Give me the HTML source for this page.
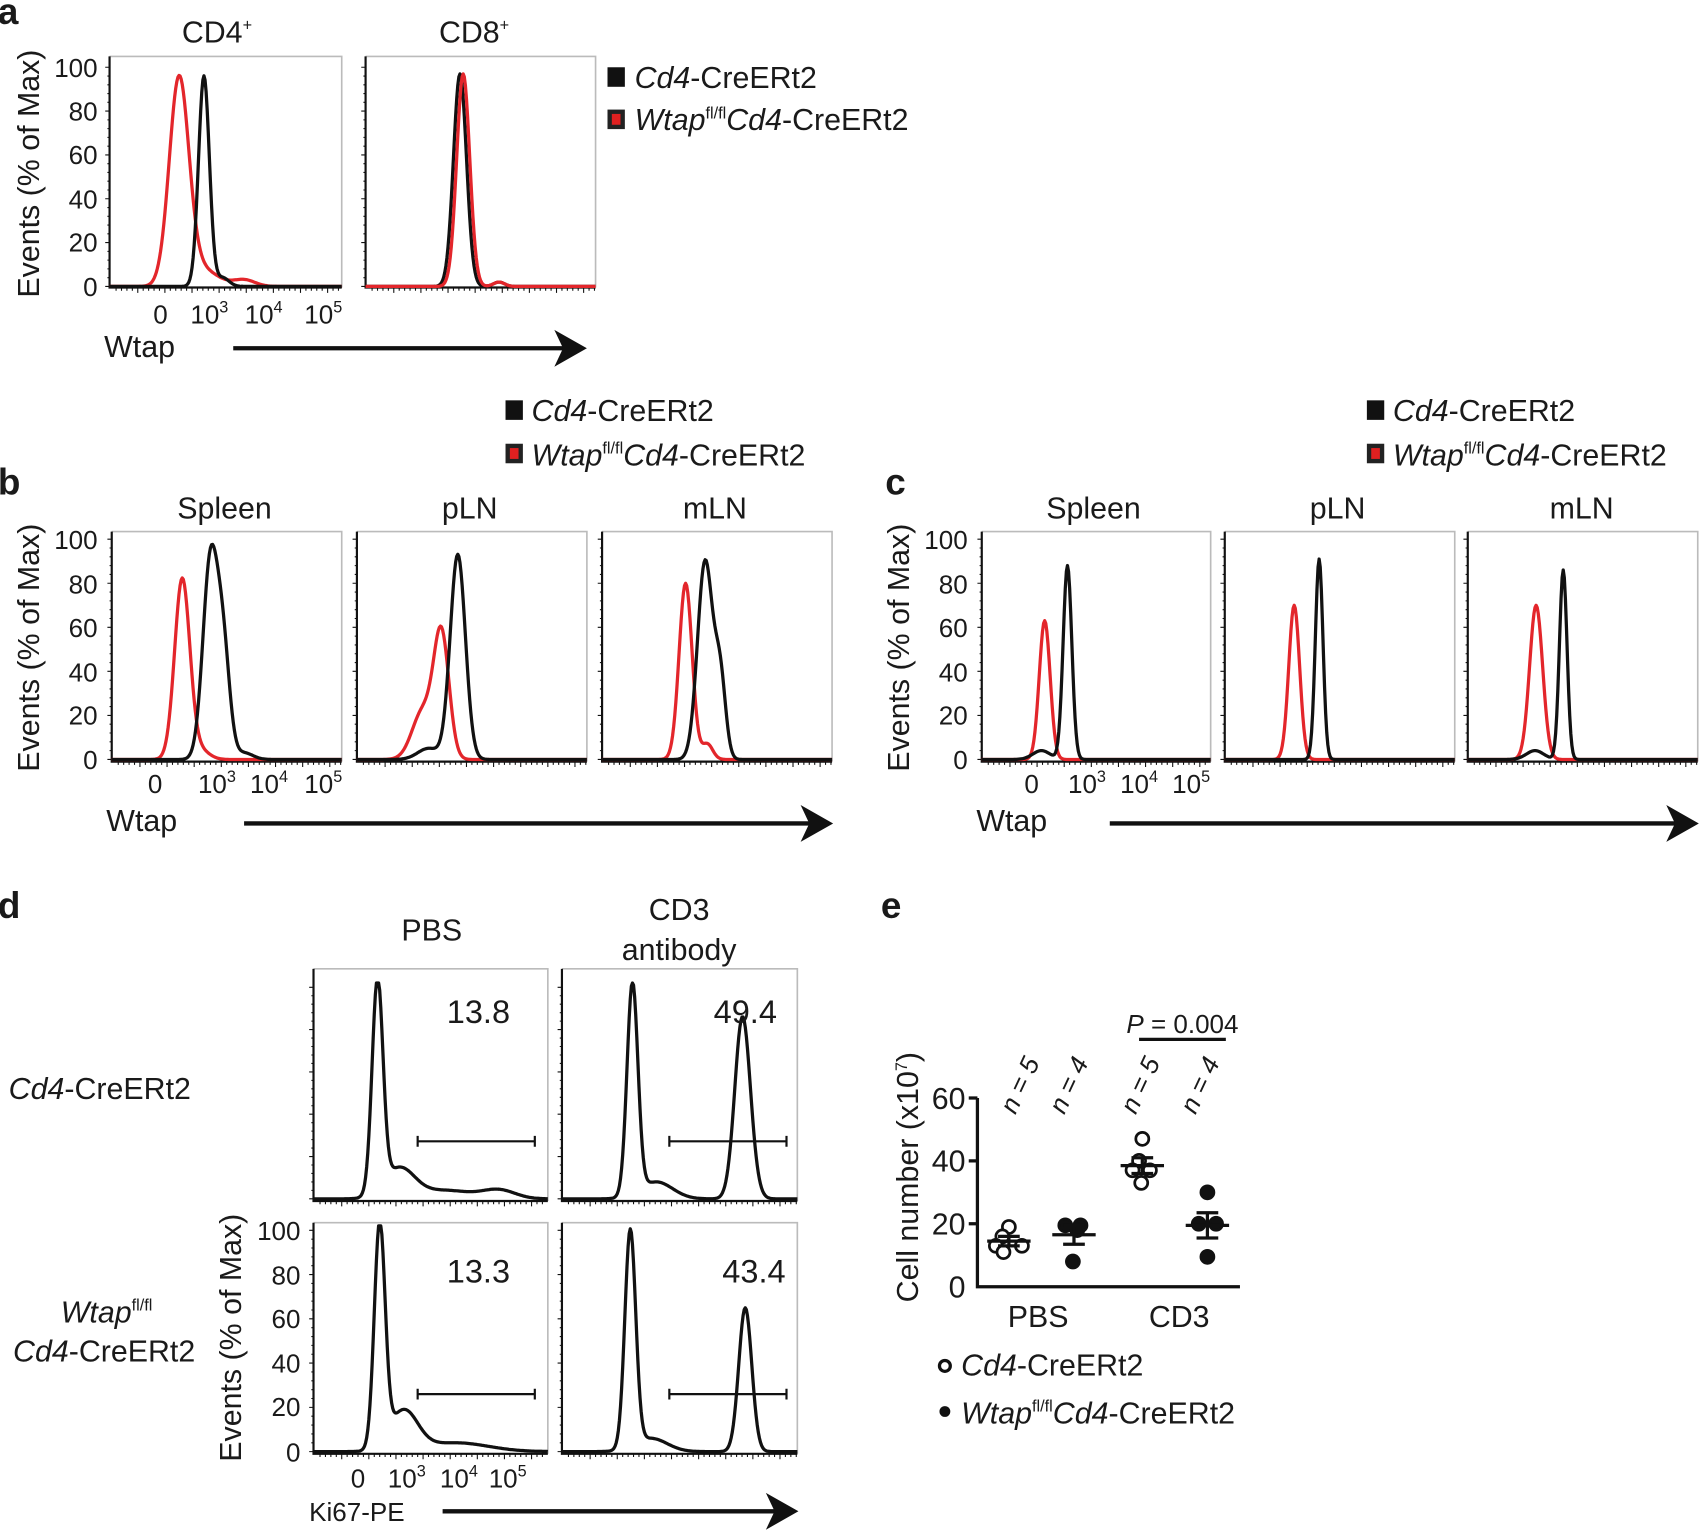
<!DOCTYPE html>
<html><head><meta charset="utf-8"><style>
html,body{margin:0;padding:0;background:#fff}
svg{display:block}
text{font-family:"Liberation Sans",Arial,sans-serif;fill:#1a1a1a}
.b{font-weight:bold;font-size:34px}
.t{font-size:28px}
.k{font-size:24px}
.v{font-size:30px}
.i{font-style:italic}
</style></head><body>
<svg id="s" width="1701" height="1533" viewBox="0 0 1568 1413" preserveAspectRatio="none" xmlns="http://www.w3.org/2000/svg">
<g id="g"></g>
<!-- panel a -->
<text class="b" x="-2" y="22">a</text>
<text class="t" x="200" y="39" text-anchor="middle">CD4<tspan font-size="15" dy="-11">+</tspan></text>
<text class="t" x="437" y="39" text-anchor="middle">CD8<tspan font-size="15" dy="-11">+</tspan></text>
<text class="t" transform="translate(36,160) rotate(-90)" text-anchor="middle">Events (% of Max)</text>
<g class="k" text-anchor="end"><text x="90" y="71">100</text><text x="90" y="111">80</text><text x="90" y="151">60</text><text x="90" y="192">40</text><text x="90" y="232">20</text><text x="90" y="273">0</text></g>
<g class="k" text-anchor="middle"><text x="148" y="298">0</text><text x="193" y="298">10<tspan font-size="15" dy="-10">3</tspan></text><text x="243" y="298">10<tspan font-size="15" dy="-10">4</tspan></text><text x="298" y="298">10<tspan font-size="15" dy="-10">5</tspan></text></g>
<text class="t" x="96" y="329">Wtap</text>
<rect x="560" y="62" width="16" height="18" fill="#111"/>
<rect x="560" y="101" width="16" height="18" fill="#222"/><rect x="564" y="105" width="8" height="10" fill="#e02020"/>
<text class="t" x="585" y="81"><tspan class="i">Cd4</tspan>-CreERt2</text>
<text class="t" x="585" y="120"><tspan class="i">Wtap</tspan><tspan font-size="15" dy="-11">fl/fl</tspan><tspan class="i" dy="11">Cd4</tspan>-CreERt2</text>
<!-- panel b -->
<text class="b" x="-2" y="456">b</text>
<rect x="466" y="369" width="16" height="18" fill="#111"/>
<rect x="466" y="409" width="16" height="18" fill="#222"/><rect x="470" y="413" width="8" height="10" fill="#e02020"/>
<text class="t" x="490" y="388"><tspan class="i">Cd4</tspan>-CreERt2</text>
<text class="t" x="490" y="429"><tspan class="i">Wtap</tspan><tspan font-size="15" dy="-11">fl/fl</tspan><tspan class="i" dy="11">Cd4</tspan>-CreERt2</text>
<g class="t" text-anchor="middle"><text x="207" y="478">Spleen</text><text x="433" y="478">pLN</text><text x="659" y="478">mLN</text></g>
<text class="t" transform="translate(36,597) rotate(-90)" text-anchor="middle">Events (% of Max)</text>
<g class="k" text-anchor="end"><text x="90" y="506">100</text><text x="90" y="547">80</text><text x="90" y="587">60</text><text x="90" y="628">40</text><text x="90" y="668">20</text><text x="90" y="709">0</text></g>
<g class="k" text-anchor="middle"><text x="143" y="731">0</text><text x="200" y="731">10<tspan font-size="15" dy="-10">3</tspan></text><text x="248" y="731">10<tspan font-size="15" dy="-10">4</tspan></text><text x="298" y="731">10<tspan font-size="15" dy="-10">5</tspan></text></g>
<text class="t" x="98" y="766">Wtap</text>
<!-- panel c -->
<text class="b" x="816" y="456">c</text>
<rect x="1260" y="369" width="16" height="18" fill="#111"/>
<rect x="1260" y="409" width="16" height="18" fill="#222"/><rect x="1264" y="413" width="8" height="10" fill="#e02020"/>
<text class="t" x="1284" y="388"><tspan class="i">Cd4</tspan>-CreERt2</text>
<text class="t" x="1284" y="429"><tspan class="i">Wtap</tspan><tspan font-size="15" dy="-11">fl/fl</tspan><tspan class="i" dy="11">Cd4</tspan>-CreERt2</text>
<g class="t" text-anchor="middle"><text x="1008" y="478">Spleen</text><text x="1233" y="478">pLN</text><text x="1458" y="478">mLN</text></g>
<text class="t" transform="translate(838,597) rotate(-90)" text-anchor="middle">Events (% of Max)</text>
<g class="k" text-anchor="end"><text x="892" y="506">100</text><text x="892" y="547">80</text><text x="892" y="587">60</text><text x="892" y="628">40</text><text x="892" y="668">20</text><text x="892" y="709">0</text></g>
<g class="k" text-anchor="middle"><text x="951" y="731">0</text><text x="1002" y="731">10<tspan font-size="15" dy="-10">3</tspan></text><text x="1050" y="731">10<tspan font-size="15" dy="-10">4</tspan></text><text x="1098" y="731">10<tspan font-size="15" dy="-10">5</tspan></text></g>
<text class="t" x="900" y="766">Wtap</text>
<!-- panel d -->
<text class="b" x="-2" y="846">d</text>
<g class="t" text-anchor="middle"><text x="398" y="867">PBS</text><text x="626" y="848">CD3</text><text x="626" y="885">antibody</text></g>
<text class="t" x="8" y="1013"><tspan class="i">Cd4</tspan>-CreERt2</text>
<text class="t" x="56" y="1219"><tspan class="i">Wtap</tspan><tspan font-size="15" dy="-11">fl/fl</tspan></text>
<text class="t" x="12" y="1255"><tspan class="i">Cd4</tspan>-CreERt2</text>
<g class="v" text-anchor="middle"><text x="441" y="943">13.8</text><text x="687" y="943">49.4</text><text x="441" y="1182">13.3</text><text x="695" y="1182">43.4</text></g>
<text class="t" transform="translate(222,1233) rotate(-90)" text-anchor="middle">Events (% of Max)</text>
<g class="k" text-anchor="end"><text x="277" y="1143">100</text><text x="277" y="1184">80</text><text x="277" y="1224">60</text><text x="277" y="1265">40</text><text x="277" y="1305">20</text><text x="277" y="1347">0</text></g>
<g class="k" text-anchor="middle"><text x="330" y="1371">0</text><text x="375" y="1371">10<tspan font-size="15" dy="-10">3</tspan></text><text x="423" y="1371">10<tspan font-size="15" dy="-10">4</tspan></text><text x="468" y="1371">10<tspan font-size="15" dy="-10">5</tspan></text></g>
<text class="k" x="285" y="1402">Ki67-PE</text>
<!-- panel e -->
<text class="b" x="812" y="846">e</text>
<text class="t" transform="translate(846,1085) rotate(-90)" text-anchor="middle">Cell number (x10<tspan font-size="15" dy="-10">7</tspan><tspan dy="10">)</tspan></text>
<g class="t" text-anchor="end"><text x="890" y="1022">60</text><text x="890" y="1080">40</text><text x="890" y="1138">20</text><text x="890" y="1196">0</text></g>
<path d="M901,1012 V1186 H1143 M893,1012 H901 M893,1070 H901 M893,1128 H901" stroke="#111" stroke-width="3" fill="none"/>
<g class="t" text-anchor="middle"><text x="957" y="1223">PBS</text><text x="1087" y="1223">CD3</text></g>
<text class="k" x="1090" y="952" text-anchor="middle"><tspan class="i">P</tspan> = 0.004</text>
<path d="M1050,958 H1130" stroke="#111" stroke-width="3"/>
<g class="k i"><text transform="translate(936,1028) rotate(-65)">n = 5</text><text transform="translate(981,1028) rotate(-65)">n = 4</text><text transform="translate(1047,1028) rotate(-65)">n = 5</text><text transform="translate(1102,1028) rotate(-65)">n = 4</text></g>
<circle cx="871" cy="1259" r="5" fill="none" stroke="#111" stroke-width="3"/>
<circle cx="871" cy="1301" r="5" fill="#111"/>
<text class="t" x="886" y="1268"><tspan class="i">Cd4</tspan>-CreERt2</text>
<text class="t" x="886" y="1312"><tspan class="i">Wtap</tspan><tspan font-size="15" dy="-11">fl/fl</tspan><tspan class="i" dy="11">Cd4</tspan>-CreERt2</text>
</svg>
<script>
var g=document.getElementById('g'),NS='http://www.w3.org/2000/svg';
function el(n,a){var e=document.createElementNS(NS,n);for(var k in a)e.setAttribute(k,a[k]);g.appendChild(e);return e;}
function box(x0,y0,x1,y1,yt,yb){
 el('path',{d:'M'+x0+','+y0+'H'+x1+'V'+y1,stroke:'#bbb','stroke-width':1.5,fill:'none'});
 el('path',{d:'M'+x0+','+y0+'V'+y1+'H'+x1,stroke:'#111','stroke-width':2,fill:'none'});
 var d='';for(var i=0;i<=5;i++){var y=yb-(yb-yt)*i/5;d+='M'+(x0-4)+','+y+'H'+x0;}
 for(var i=0;i<=25;i++){var y=yb-(yb-yt)*i/25;d+='M'+(x0-2)+','+y+'H'+x0;}
 for(var x=x0+6;x<x1;x+=5)d+='M'+x+','+y1+'v'+((x-x0)%25<5?5:3);
 el('path',{d:d,stroke:'#111','stroke-width':1,fill:'none'});
}
function hist(x0,x1,yb,yt,comps,col){
 var d='';for(var x=x0;x<=x1;x++){var s=0;comps.forEach(function(c){s+=c[2]*Math.exp(-Math.pow((x-c[0])/c[1],2)/2);});
 d+=(x==x0?'M':'L')+x+','+(yb-(yb-yt)*Math.min(s,1.02)).toFixed(1);}
 el('path',{d:d,stroke:col,'stroke-width':3,fill:'none','stroke-linejoin':'round'});
}
function arrow(x0,x1,y){el('path',{d:'M'+x0+','+y+'H'+(x1-20),stroke:'#111','stroke-width':4});el('path',{d:'M'+(x1-30)+','+(y-17)+'L'+x1+','+y+'L'+(x1-30)+','+(y+17)+'L'+(x1-22)+','+y+'Z',fill:'#111'});}
var R='#e3262b',K='#111';
box(101,52,315,265,62,264);box(337,52,549,265,62,264);
hist(101,315,264,62,[[165,9,.93],[185,15,.08],[225,10,.03]],R);
hist(101,315,264,62,[[188,5,.96],[205,6,.04]],K);
hist(337,549,264,62,[[424,6,.97],[460,5,.02]],K);
hist(337,549,264,62,[[427,6,.97],[460,5,.02]],R);
arrow(215,541,321);
[[103,315],[329,541],[555,767]].forEach(function(p){box(p[0],490,p[1],702,497,700);});
hist(103,315,700,497,[[168,7,.82],[185,8,.04]],R);
hist(103,315,700,497,[[194,7,.9],[206,6,.45],[225,8,.03]],K);
hist(329,541,700,497,[[407,7,.55],[390,10,.22]],R);
hist(329,541,700,497,[[422,7,.93],[395,10,.05]],K);
hist(555,767,700,497,[[632,6,.8],[652,5,.07]],R);
hist(555,767,700,497,[[650,7,.9],[664,5,.35]],K);
arrow(225,768,759);
[[905,1116],[1129,1341],[1353,1565]].forEach(function(p){box(p[0],490,p[1],702,497,700);});
hist(905,1116,700,497,[[963,5,.63]],R);hist(905,1116,700,497,[[984,4,.88],[960,8,.04]],K);
hist(1129,1341,700,497,[[1193,5,.7]],R);hist(1129,1341,700,497,[[1216,3.5,.91]],K);
hist(1353,1565,700,497,[[1416,6,.7]],R);hist(1353,1565,700,497,[[1441,3.5,.86],[1415,8,.04]],K);
arrow(1023,1566,759);
box(289,893,505,1107,910,1105);box(518,893,735,1107,910,1105);
box(289,1127,505,1340,1134,1338);box(518,1127,735,1340,1134,1338);
hist(289,505,1105,910,[[348,5,1],[368,14,.14],[410,25,.04],[460,15,.04]],K);
hist(518,735,1105,910,[[583,5,1],[605,15,.08],[684,7,.79],[690,7,.1]],K);
hist(289,505,1338,1134,[[350,5,1],[372,13,.18],[420,30,.04]],K);
hist(518,735,1338,1134,[[581,5,.98],[600,15,.06],[687,6,.65]],K);
function gate(x0,x1,y){el('path',{d:'M'+x0+','+y+'H'+x1+'M'+x0+','+(y-5)+'v10M'+x1+','+(y-5)+'v10',stroke:'#111','stroke-width':2});}
gate(385,493,1052);gate(617,725,1052);gate(385,493,1285);gate(617,725,1285);
arrow(408,736,1393);
function Y(v){return 1186-2.9*v;}
function dots(cx,vals,fill,mean,sem){
 vals.forEach(function(v){el('circle',{cx:v[0],cy:Y(v[1]),r:6,fill:fill?'#111':'#fff',stroke:'#111','stroke-width':2.5});});
 el('path',{d:'M'+(cx-20)+','+Y(mean)+'H'+(cx+20)+'M'+(cx-10)+','+Y(mean+sem)+'H'+(cx+10)+'M'+(cx-10)+','+Y(mean-sem)+'H'+(cx+10)+'M'+cx+','+Y(mean+sem)+'V'+Y(mean-sem),stroke:'#111','stroke-width':3});
}
dots(930,[[930,19],[924,16],[918,13],[942,13],[925,11]],0,14.5,1.5);
dots(990,[[982,19.5],[996,19.5],[993,18],[989,8]],1,16.5,3);
dots(1053,[[1053,47],[1050,40],[1044,37],[1060,37],[1052,33]],0,38.5,2.5);
dots(1113,[[1113,30],[1105,20],[1121,20],[1113,9.5]],1,19.5,4);
</script>
</body></html>
